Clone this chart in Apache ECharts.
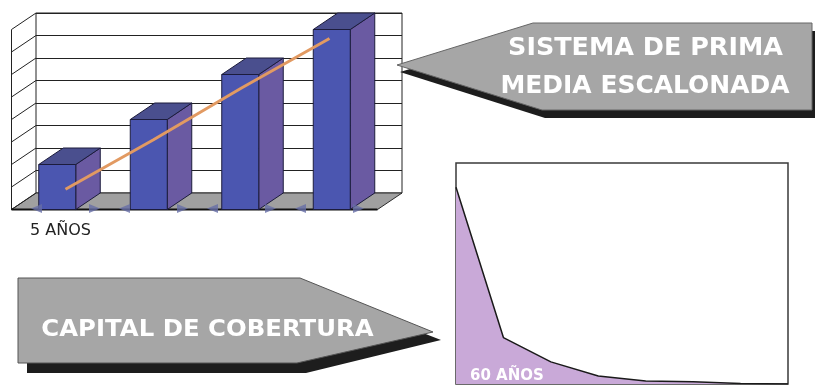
<!DOCTYPE html>
<html><head><meta charset="utf-8">
<script src="https://cdn.jsdelivr.net/npm/echarts@6/dist/echarts.min.js"></script>
<style>html,body{margin:0;padding:0;background:#fff}#c{width:815px;height:386px}</style>
</head><body><div id="c"></div>
<script>
// ---- data ----
const barCategories = ['1', '2', '3', '4'];
const barValues = [2, 4, 6, 8];
const trendValues = [0.9, 3.1, 5.4, 7.6];
const barAxisMax = 8;
const barAxisInterval = 1;
const areaCategories = ['1', '2', '3', '4', '5', '6', '7', '8'];
const areaValues = [89, 21, 10, 3.6, 1.4, 1.0, 0.2, 0];
const barAxisLabel = '5 AÑOS';
const areaAxisLabel = '60 AÑOS';
const topCalloutLines = ['SISTEMA DE PRIMA', 'MEDIA ESCALONADA'];
const bottomCalloutText = 'CAPITAL DE COBERTURA';

// ---- rendering ----
const DX = 24.5, DY = 16.5; // 3D depth offset (front = back shifted by -DX, +DY)
const FONT = 'DejaVu Sans';
const chart = echarts.init(document.getElementById('c'), null, {renderer: 'canvas'});

function wallsRender(params, api) {
  const cs = params.coordSys;
  const x = cs.x, y = cs.y, w = cs.width, h = cs.height;
  const children = [];
  children.push({type: 'polygon', shape: {points: [[x, y + h], [x + w, y + h], [x + w - DX, y + h + DY], [x - DX, y + h + DY]]},
    style: {fill: '#a0a0a0', stroke: '#2a2a2a', lineWidth: 1}});
  for (let v = 0; v <= barAxisMax; v += barAxisInterval) {
    const p = api.coord([0, v]);
    children.push({type: 'line', shape: {x1: x, y1: p[1], x2: x - DX, y2: p[1] + DY}, style: {stroke: '#222', lineWidth: 1}});
  }
  children.push({type: 'line', shape: {x1: x - DX, y1: y + DY, x2: x - DX, y2: y + h + DY}, style: {stroke: '#222', lineWidth: 1}});
  children.push({type: 'line', shape: {x1: x - DX, y1: y + h + DY, x2: x + w - DX, y2: y + h + DY}, style: {stroke: '#111', lineWidth: 1.8}});
  return {type: 'group', children};
}

function barRender(params, api) {
  const i = api.value(0), v = api.value(1);
  const base = api.coord([i, 0]);
  const top = api.coord([i, v]);
  const hw = 18.5;
  const bx0 = base[0] - hw, bx1 = base[0] + hw;
  const ty = top[1], by = base[1];
  const edge = '#1c1c3c';
  return {type: 'group', children: [
    {type: 'polygon', shape: {points: [[bx1 - DX, ty + DY], [bx1, ty], [bx1, by], [bx1 - DX, by + DY]]},
      style: {fill: '#6a5aa2', stroke: edge, lineWidth: 1}},
    {type: 'polygon', shape: {points: [[bx0 - DX, ty + DY], [bx1 - DX, ty + DY], [bx1, ty], [bx0, ty]]},
      style: {fill: '#4a4f8e', stroke: edge, lineWidth: 1}},
    {type: 'rect', shape: {x: bx0 - DX, y: ty + DY, width: 2 * hw, height: by - ty},
      style: {fill: '#4b56b0', stroke: edge, lineWidth: 1}}
  ]};
}

const option = {
  animation: false,
  backgroundColor: '#ffffff',
  grid: [
    {left: 36, top: 13, width: 366, height: 180, show: true, backgroundColor: '#fff', borderColor: '#222', borderWidth: 1},
    {left: 21.5, top: 29.5, width: 352, height: 180, show: false},
    {left: 456, top: 163, width: 332, height: 221, show: true, backgroundColor: '#fff', borderColor: '#3a3a3a', borderWidth: 1.5}
  ],
  xAxis: [
    {type: 'category', gridIndex: 0, data: barCategories, axisLine: {show: false}, axisTick: {show: false}, axisLabel: {show: false}, splitLine: {show: false}},
    {type: 'category', gridIndex: 1, data: barCategories, axisLine: {show: false}, axisTick: {show: false}, axisLabel: {show: false}, splitLine: {show: false}},
    {type: 'category', gridIndex: 2, data: areaCategories, boundaryGap: false, axisLine: {show: false}, axisTick: {show: false}, axisLabel: {show: false}, splitLine: {show: false}}
  ],
  yAxis: [
    {type: 'value', gridIndex: 0, min: 0, max: barAxisMax, interval: barAxisInterval, axisLine: {show: false}, axisTick: {show: false}, axisLabel: {show: false},
      splitLine: {show: true, lineStyle: {color: '#222', width: 1}}},
    {type: 'value', gridIndex: 1, min: 0, max: barAxisMax, interval: barAxisInterval, axisLine: {show: false}, axisTick: {show: false}, axisLabel: {show: false}, splitLine: {show: false}},
    {type: 'value', gridIndex: 2, min: 0, max: 100, axisLine: {show: false}, axisTick: {show: false}, axisLabel: {show: false}, splitLine: {show: false}}
  ],
  series: [
    {type: 'custom', xAxisIndex: 0, yAxisIndex: 0, z: 1, renderItem: wallsRender, data: [[0, 0]], silent: true},
    {type: 'custom', xAxisIndex: 0, yAxisIndex: 0, z: 2, renderItem: barRender,
      data: barValues.map((v, i) => [i, v])},
    {type: 'scatter', xAxisIndex: 1, yAxisIndex: 1, z: 3, symbol: 'triangle', symbolSize: [9, 11], symbolRotate: 90, symbolOffset: [-29, -1],
      itemStyle: {color: '#666ea6'}, data: barCategories.map((c, i) => [i, 0])},
    {type: 'scatter', xAxisIndex: 1, yAxisIndex: 1, z: 3, symbol: 'triangle', symbolSize: [9, 11], symbolRotate: -90, symbolOffset: [29, -1],
      itemStyle: {color: '#666ea6'}, data: barCategories.map((c, i) => [i, 0])},
    {type: 'line', xAxisIndex: 1, yAxisIndex: 1, z: 4, data: trendValues, symbol: 'none',
      lineStyle: {color: '#e29a62', width: 3}},
    {type: 'line', xAxisIndex: 2, yAxisIndex: 2, z: 2, data: areaValues, symbol: 'none', smooth: false,
      lineStyle: {color: '#1a1a1a', width: 1.5}, areaStyle: {color: '#c9a9d8', opacity: 1}}
  ],
  graphic: [
    // top callout
    {type: 'polygon', z: 10, shape: {points: [[400, 72], [536, 31], [815, 31], [815, 118], [545, 118]]}, style: {fill: '#1d1d1d'}},
    {type: 'polygon', z: 11, shape: {points: [[397, 65], [533, 23], [812, 23], [812, 110], [542, 110]]}, style: {fill: '#a6a6a6', stroke: '#666', lineWidth: 1}},
    {type: 'text', z: 12, x: 645.5, y: 49, scaleX: 1.06, style: {text: topCalloutLines[0], fill: '#fff', font: 'bold 24px "' + FONT + '"', align: 'center', verticalAlign: 'middle'}},
    {type: 'text', z: 12, x: 645, y: 87, scaleX: 1.04, style: {text: topCalloutLines[1], fill: '#fff', font: 'bold 24px "' + FONT + '"', align: 'center', verticalAlign: 'middle'}},
    // bottom callout
    {type: 'polygon', z: 10, shape: {points: [[27, 288], [308, 288], [441, 340], [306, 373], [27, 373]]}, style: {fill: '#1d1d1d'}},
    {type: 'polygon', z: 11, shape: {points: [[18, 278], [300, 278], [433, 332], [297, 363], [18, 363]]}, style: {fill: '#a6a6a6', stroke: '#555', lineWidth: 1}},
    {type: 'text', z: 12, x: 207.5, y: 330, scaleX: 1.06, style: {text: bottomCalloutText, fill: '#fff', font: 'bold 23px "' + FONT + '"', align: 'center', verticalAlign: 'middle'}},
    // axis captions
    {type: 'text', z: 12, x: 30, y: 231, style: {text: barAxisLabel, fill: '#222', font: '16px "' + FONT + '"', align: 'left', verticalAlign: 'middle'}},
    {type: 'text', z: 12, x: 470, y: 376, style: {text: areaAxisLabel, fill: '#fff', font: 'bold 15px "' + FONT + '"', align: 'left', verticalAlign: 'middle'}}
  ]
};
chart.setOption(option);
</script>
</body></html>
